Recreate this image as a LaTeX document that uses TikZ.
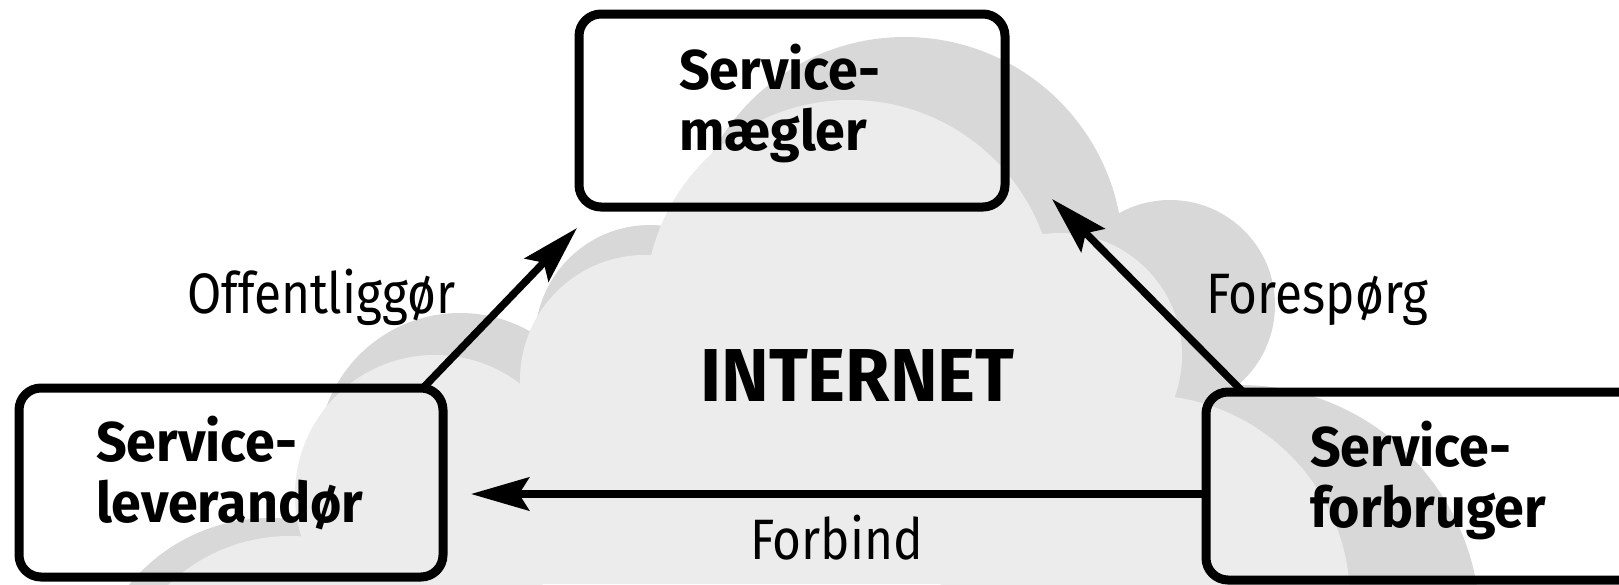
\documentclass[tikz,border=0pt]{standalone}
\usepackage{fontspec}
\setmainfont{Fira Sans}
\newfontfamily\labelfont{Fira Sans}[FakeStretch=0.87]
\newfontfamily\partyfont{Fira Sans}[FakeStretch=0.96]
\usetikzlibrary{arrows.meta,calc}
\definecolor{cloudlight}{RGB}{236,236,236}
\definecolor{cloudshade}{RGB}{216,216,216}
\begin{document}
\begin{tikzpicture}[x=1pt,y=-1pt,
  box/.style={draw, line width=9pt, rounded corners=22pt, inner sep=0pt, outer sep=0pt},
  conn/.style={line width=7.5pt, -{Stealth[length=58pt,width=33pt,inset=10pt]}},
  boxtext/.style={font=\partyfont\bfseries\fontsize{56}{61}\selectfont, align=left, anchor=base west, inner sep=0pt},
  edgetext/.style={font=\labelfont\fontsize{57}{62}\selectfont, anchor=base west, inner sep=0pt},
  bigtext/.style={font=\partyfont\bfseries\fontsize{75}{80}\selectfont, anchor=base west, inner sep=0pt}]

\fill[white] (0,0) rectangle (1619,584);
\path[use as bounding box] (0,0) rectangle (1619,584);

% the cloud: shaded puffs, with lighter discs laid over them
\fill[cloudshade] (905,255) circle (218pt) (1170,305) circle (105pt)
  (1240,625) circle (240pt) (650,340) circle (115pt)
  (460,455) circle (142pt) (270,700) circle (182pt);
\fill[cloudlight] (850,305) circle (205pt) (1060,355) circle (122pt)
  (1145,600) circle (205pt) (645,380) circle (125pt)
  (435,495) circle (140pt) (290,712) circle (176pt)
  (400,420) rectangle (1200,584);

% the three parties
\node[box, minimum width=426pt, minimum height=193pt, anchor=north west] (tbox) at (579,14) {};
\node[box, minimum width=424pt, minimum height=189pt, anchor=north west] (lbox) at (19,388) {};
\node[box, minimum width=494pt, minimum height=188pt, anchor=north west] (rbox) at (1206,392) {};

% a two-line node sits on the baseline of its last line
\node[boxtext] (tboxText) at (679,150) {Service-\\[0pt]mægler};
\node[boxtext] (lboxText) at (96,522) {Service-\\[0pt]leverandør};
\node[boxtext] (rboxText) at (1310,527) {Service-\\[0pt]forbruger};

\node[bigtext] (net) at (700,401) {INTERNET};

% the interactions
\coordinate (pubStart) at ([xshift=-20pt]lbox.north east);
\coordinate (pubTip) at ([xshift=-2pt,yshift=-21pt]tbox.south west);
\coordinate (askStart) at ([xshift=37pt]rbox.north west);
\coordinate (askTip) at ([xshift=47pt,yshift=8pt]tbox.south east);
\coordinate (bindStart) at ([yshift=-8pt]rbox.west);
\coordinate (bindTip) at ($(lbox.east |- bindStart)+(28,0)$);

\draw[conn] (pubStart) -- (pubTip);
\draw[conn] (askStart) -- (askTip);
\draw[conn] (bindStart) -- (bindTip);

\node[edgetext] (pubLabel) at (187,313) {Offentliggør};
\node[edgetext] (askLabel) at (1206,313) {Forespørg};
\node[edgetext] (bindLabel) at (750,559) {Forbind};
\end{tikzpicture}
\end{document}
